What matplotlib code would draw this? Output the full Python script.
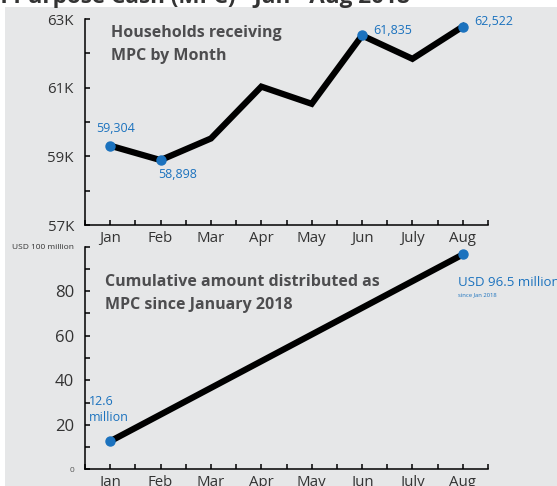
import matplotlib
matplotlib.use("Agg")
import matplotlib.pyplot as plt

plt.rcParams['font.family'] = ['Open Sans', 'DejaVu Sans']

# Data
months = ['Jan', 'Feb', 'Mar', 'Apr', 'May', 'Jun', 'July', 'Aug']
households = [59310, 58890, 59520, 61030, 60530, 62520, 61840, 62780]
household_labels = {0: '59,304', 1: '58,898', 5: '61,835', 7: '62,522'}

cum_idx = [0, 7]
cum_values = [12.6, 96.5]

BLUE = '#1b72be'
GREY_BG = '#e6e7e8'
TEXT_DARK = '#4d4d4f'

W, H = 557, 486
fig = plt.figure(figsize=(W / 100, H / 100), dpi=100, facecolor='white')

# grey panel behind the charts
bg = fig.add_axes([5 / W, 0, 1 - 5 / W, 1 - 7 / H], zorder=0)
bg.set_facecolor(GREY_BG)
bg.set_xticks([])
bg.set_yticks([])
for s in bg.spines.values():
    s.set_visible(False)

# title, mostly cut off at the top edge
fig.text(410 / W, 1 - 3.5 / H, 'Multi Purpose Cash (MPC) - Jan - Aug 2018',
         ha='right', va='baseline', fontsize=16.2, fontweight='bold', color='#333333')


def style_axis(ax):
    ax.set_facecolor('none')
    for side in ['top', 'right']:
        ax.spines[side].set_visible(False)
    for side in ['left', 'bottom']:
        ax.spines[side].set_linewidth(1.1)
        ax.spines[side].set_color('black')
    ax.set_xlim(-0.5, 7.5)
    x_ticks = [i * 0.5 - 0.5 for i in range(17)]
    ax.set_xticks(x_ticks)
    ax.set_xticklabels([months[int(t)] if t >= 0 and t == int(t) else '' for t in x_ticks])
    ax.tick_params(axis='both', direction='in', length=3.5, width=1.1, color='black',
                   labelsize=10.8, labelcolor='#333333')
    ax.tick_params(axis='x', pad=4)
    ax.tick_params(axis='y', pad=8)


# --- top chart: households per month
ax1 = fig.add_axes([85 / W, 1 - 225 / H, 403 / W, 206 / H], zorder=2)
style_axis(ax1)
ax1.set_ylim(57000, 63000)
ax1.set_yticks(range(57000, 63001, 1000))
ax1.set_yticklabels(['57K', '', '59K', '', '61K', '', '63K'])
ax1.plot(range(len(months)), households, color='black', lw=4.5, solid_joinstyle='miter',
         zorder=2)
lbl_idx = list(household_labels.keys())
ax1.plot(lbl_idx, [households[i] for i in lbl_idx], 'o', color=BLUE, ms=6.5, zorder=3)
offsets = {0: (-0.28, 500, 'left'), 1: (-0.05, -430, 'left'), 5: (0.22, 150, 'left'),
           7: (0.22, 150, 'left')}
for i, txt in household_labels.items():
    dx, dy, ha = offsets[i]
    ax1.text(i + dx, households[i] + dy, txt, color=BLUE, fontsize=9, ha=ha, va='center')
ax1.text(0.02, 62257, 'Households receiving\nMPC by Month', fontsize=11.5, fontweight='bold',
         color=TEXT_DARK, va='center', ha='left', linespacing=1.55)

# --- bottom chart: cumulative amount distributed
ax2 = fig.add_axes([85 / W, 1 - 469.3 / H, 403 / W, 222.6 / H], zorder=2)
style_axis(ax2)
ax2.set_ylim(0, 100)
ax2.set_yticks(range(0, 101, 10))
ax2.set_yticklabels(['0', '', '20', '', '40', '', '60', '', '80', '', 'USD 100 million'])
ax2.tick_params(axis='y', labelsize=12)
small = ax2.get_yticklabels()
small[0].set_fontsize(6)
small[0].set_color('#555555')
small[-1].set_fontsize(6)
ax2.plot(cum_idx, cum_values, color='black', lw=4.5, zorder=2, solid_capstyle='butt')
ax2.plot(cum_idx, cum_values, 'o', color=BLUE, ms=6.5, zorder=3)
ax2.text(-0.42, 27, '12.6\nmillion', color=BLUE, fontsize=9, ha='left', va='center',
         linespacing=1.3)
ax2.text(6.9, 84, 'USD 96.5 million', color=BLUE, fontsize=9.5, ha='left', va='center')
ax2.text(6.9, 78.5, 'since Jan 2018', color=BLUE, fontsize=4.2, ha='left', va='center')
ax2.text(-0.1, 79, 'Cumulative amount distributed as\nMPC since January 2018', fontsize=11.5,
         fontweight='bold', color=TEXT_DARK, va='center', ha='left', linespacing=1.55)

fig.savefig('out.png', dpi=100, facecolor='white')
